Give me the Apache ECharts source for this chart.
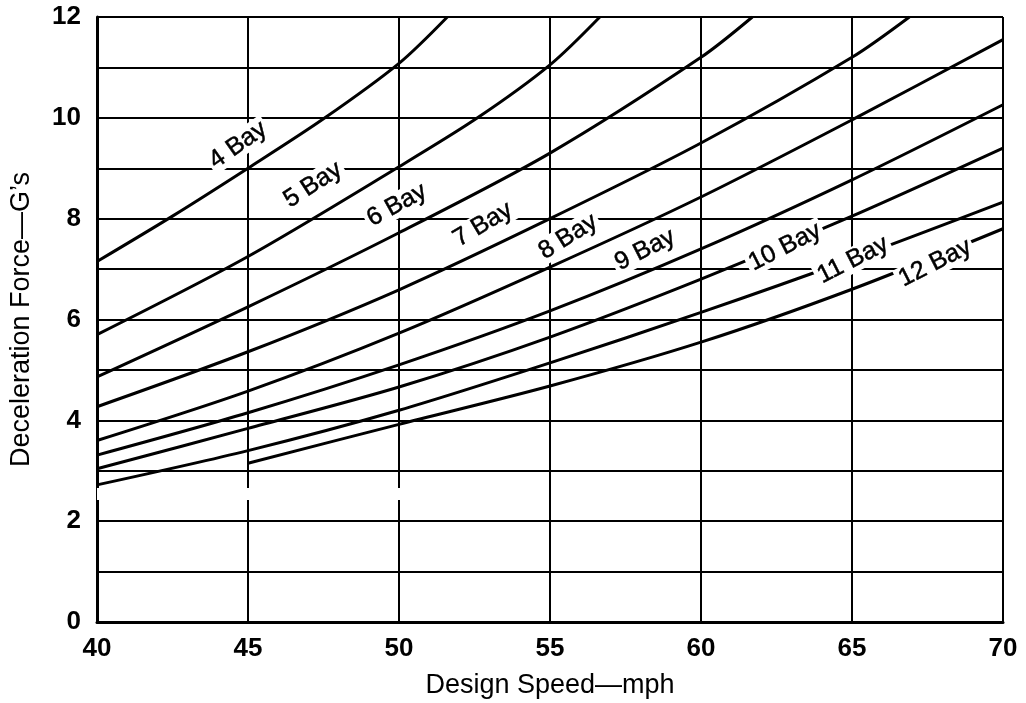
<!DOCTYPE html>
<html>
<head>
<meta charset="utf-8">
<script src="https://cdn.jsdelivr.net/npm/echarts@6/dist/echarts.min.js"></script>
<style>
html, body { margin: 0; padding: 0; background: #fff; }
#chart { width: 1026px; height: 703px; }
</style>
</head>
<body>
<div id="chart"></div>
<script>
// design speed (mph) vs deceleration force (G's), one curve per bay count
const bay4  = [[40, 7.15], [42.5, 8.05], [45, 9.0], [47.5, 9.98], [50, 11.08], [51.6, 12]];
const bay5  = [[40, 5.7], [45, 7.25], [50, 9.03], [52.6, 10], [55, 11.05], [56.65, 12]];
const bay6  = [[40, 4.86], [45, 6.25], [50, 7.72], [55, 9.3], [60, 11.2], [61.7, 12]];
const bay7  = [[40, 4.27], [45, 5.36], [50, 6.59], [55, 8.0], [60, 9.5], [65, 11.2], [66.9, 12]];
const bay8  = [[40, 3.6], [45, 4.58], [50, 5.73], [55, 7.04], [60, 8.43], [65, 9.96], [70, 11.55]];
const bay9  = [[40, 3.31], [45, 4.15], [50, 5.1], [55, 6.17], [60, 7.4], [65, 8.77], [70, 10.26]];
const bay10 = [[40, 3.04], [45, 3.84], [50, 4.66], [55, 5.65], [60, 6.8], [65, 8.05], [70, 9.4]];
const bay11 = [[40, 2.72], [45, 3.4], [50, 4.2], [55, 5.14], [60, 6.14], [65, 7.2], [70, 8.33]];
const bay12 = [[45, 3.15], [50, 3.92], [55, 4.68], [60, 5.55], [65, 6.6], [70, 7.8]];

const bayNames = ['4 Bay', '5 Bay', '6 Bay', '7 Bay', '8 Bay', '9 Bay', '10 Bay', '11 Bay', '12 Bay'];
const bayData = [bay4, bay5, bay6, bay7, bay8, bay9, bay10, bay11, bay12];
const xTicks = [40, 45, 50, 55, 60, 65, 70];
const yTicks = [0, 2, 4, 6, 8, 10, 12];

// where each curve label sits (speed, G's) and its tilt
const labelSpots = [
    [44.67, 9.46, 35], [47.15, 8.67, 33], [49.93, 8.27, 29],
    [52.78, 7.88, 31], [55.6, 7.64, 32], [58.15, 7.38, 27],
    [62.78, 7.44, 27], [65.03, 7.18, 27], [67.75, 7.12, 27]
];

const chart = echarts.init(document.getElementById('chart'));

const lineSeries = bayData.map((d, i) => ({
    name: bayNames[i],
    type: 'line',
    data: d,
    smooth: 0.3,
    showSymbol: false,
    symbol: 'none',
    lineStyle: { color: '#000', width: 3 },
    z: 3
}));

// white gap through the grid, as in the scanned original
lineSeries[0].markArea = {
    silent: true,
    itemStyle: { color: '#fff' },
    data: [[{ coord: [39.85, 2.42] }, { coord: [51.2, 2.66] }]]
};

const labelSeries = {
    type: 'scatter',
    symbolSize: 0,
    z: 10,
    itemStyle: { color: '#000', opacity: 1 },
    data: labelSpots.map((p, i) => ({
        name: bayNames[i],
        value: [p[0], p[1]],
        label: { rotate: p[2] }
    })),
    label: {
        show: true,
        position: 'inside',
        formatter: '{b}',
        color: '#000',
        opacity: 1,
        fontFamily: 'Liberation Sans',
        fontSize: 25,
        textBorderColor: '#000',
        textBorderWidth: 0.5,
        backgroundColor: '#fff',
        padding: [0, 3]
    }
};

const option = {
    backgroundColor: '#fff',
    animation: false,
    grid: { left: 97, right: 23, top: 17, bottom: 81, outerBoundsMode: 'none', containLabel: false },
    xAxis: {
        type: 'value',
        min: 40,
        max: 70,
        interval: 5,
        name: 'Design Speed\u2014mph',
        nameLocation: 'middle',
        nameGap: 50,
        nameTextStyle: { color: '#000', fontFamily: 'Liberation Sans', fontSize: 27 },
        axisLine: { lineStyle: { color: '#000', width: 3 } },
        axisTick: { show: false },
        axisLabel: {
            color: '#000', fontFamily: 'Liberation Sans', fontWeight: 'bold', fontSize: 26, margin: 14,
            formatter: v => xTicks.includes(v) ? String(v) : ''
        },
        splitLine: { lineStyle: { color: '#000', width: 2 } }
    },
    yAxis: {
        type: 'value',
        min: 0,
        max: 12,
        interval: 1,
        name: 'Deceleration Force\u2014G\u2019s',
        nameLocation: 'middle',
        nameGap: 62,
        nameTextStyle: { color: '#000', fontFamily: 'Liberation Sans', fontSize: 27 },
        axisLine: { show: true, lineStyle: { color: '#000', width: 3 } },
        axisTick: { show: false },
        axisLabel: {
            color: '#000', fontFamily: 'Liberation Sans', fontWeight: 'bold', fontSize: 26, margin: 16,
            formatter: v => yTicks.includes(v) ? String(v) : ''
        },
        splitLine: { lineStyle: { color: '#000', width: 2 } }
    },
    series: lineSeries.concat([labelSeries])
};

chart.setOption(option);
window.addEventListener('resize', () => chart.resize());
</script>
</body>
</html>
